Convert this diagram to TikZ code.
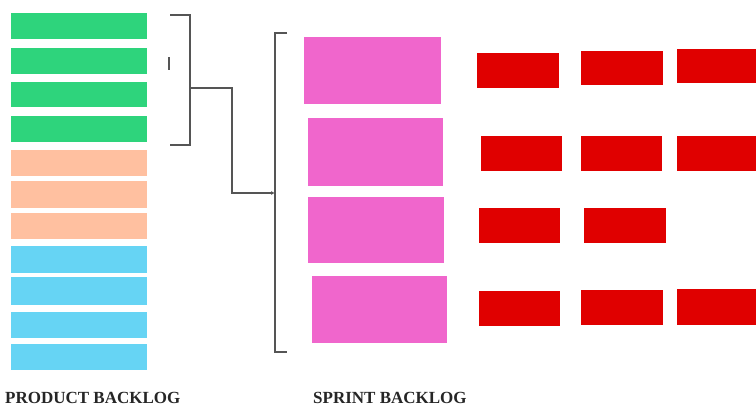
\documentclass[tikz,border=0pt]{standalone}
\usepackage{fontspec}
\setmainfont{Liberation Serif}
\usetikzlibrary{arrows.meta}
\definecolor{pbgreen}{RGB}{46,212,124}
\definecolor{pbpeach}{RGB}{255,192,160}
\definecolor{pbblue}{RGB}{102,212,244}
\definecolor{sbpink}{RGB}{240,102,204}
\definecolor{taskred}{RGB}{224,0,0}
\definecolor{linegray}{RGB}{85,85,85}
\begin{document}
\begin{tikzpicture}[x=1pt,y=-1pt,
  bar/.style={inner sep=0pt,outer sep=0pt},
  bracket/.style={draw=linegray,line width=1.4pt},
  label/.style={font=\fontsize{17}{17}\selectfont\bfseries,anchor=base west,inner sep=0pt,text=black!85}]
\useasboundingbox[fill=white] (0,0) rectangle (756,410);

% product backlog items
\foreach \n/\ya/\yb/\c in {g1/13/39/pbgreen,g2/48/74/pbgreen,g3/82/107/pbgreen,g4/116/142/pbgreen,
  p1/150/176/pbpeach,p2/181/208/pbpeach,p3/213/239/pbpeach,
  b1/246/273/pbblue,b2/277/305/pbblue,b3/312/338/pbblue,b4/344/370/pbblue}
  \fill[\c] (11,\ya) rectangle (147,\yb) coordinate (\n);

% sprint backlog items
\foreach \n/\xa/\ya/\xb/\yb in {s1/304/37/441/104,s2/308/118/443/186,s3/308/197/444/263,s4/312/276/447/343}
  \fill[sbpink] (\xa,\ya) rectangle (\xb,\yb) coordinate (\n);

% tasks
\foreach \n/\xa/\ya/\xb/\yb in {
  t11/477/53/559/88, t12/581/51/663/85, t13/677/49/760/83,
  t21/481/136/562/171, t22/581/136/662/171, t23/677/136/760/171,
  t31/479/208/560/243, t32/584/208/666/243,
  t41/479/291/560/326, t42/581/290/663/325, t43/677/289/760/325}
  \fill[taskred] (\xa,\ya) rectangle (\xb,\yb) coordinate (\n);

% brackets
\draw[bracket] (170,15) -- (190,15) -- (190,145) -- (170,145);
\draw[bracket,line width=1.2pt] (169,57) -- (169,70);
\draw[bracket] (287,33) -- (275,33) -- (275,352) -- (287,352);
\coordinate (selOut) at (190,88);
\coordinate (selIn) at (275,193);

% selection connector
\draw[draw=linegray,line width=1.2pt,-{Latex[length=4pt,width=4pt]}]
  (selOut) -- (232,88) -- (232,193) -- (selIn);

% captions
\node[label] (pbl) at (5,403) {PRODUCT BACKLOG};
\node[label] (sbl) at (313,403) {SPRINT BACKLOG};
\end{tikzpicture}
\end{document}
